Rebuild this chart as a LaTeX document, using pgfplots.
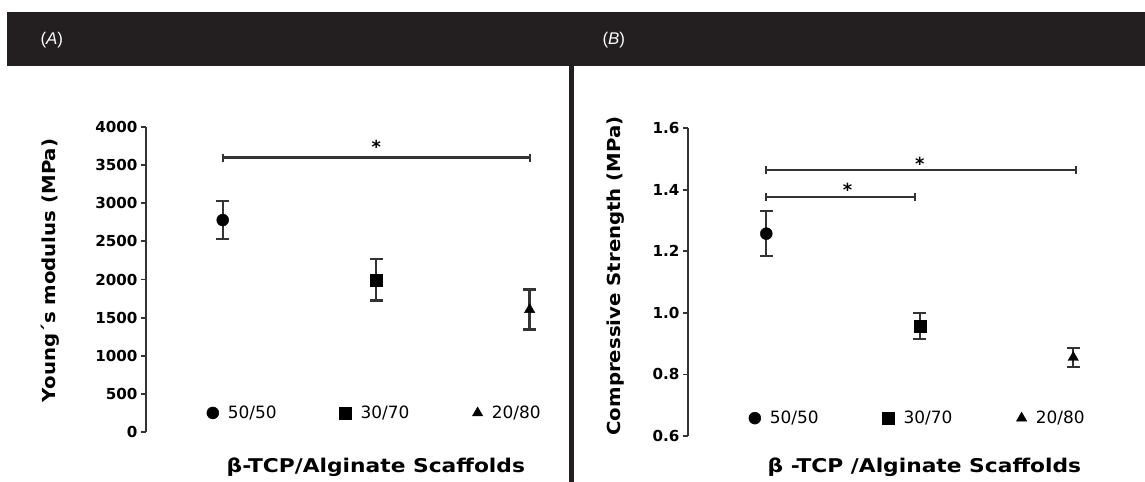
\documentclass[border=0pt]{standalone}
\usepackage{pgfplots}
\pgfplotsset{compat=1.18}
\usepackage{fontspec}
\setmainfont{DejaVu Sans}
\newfontfamily\hdrfont{Liberation Sans}
\newfontfamily\widefont[FakeStretch=1.1]{DejaVu Sans}
\newfontfamily\widerfont[FakeStretch=1.15]{DejaVu Sans}
\definecolor{hdr}{HTML}{231F20}
\definecolor{ax}{HTML}{333333}

\tikzset{
  ylab/.style={font=\widefont\fontsize{18}{20}\selectfont\bfseries, rotate=90, anchor=center},
  xlab/.style={font=\widerfont\fontsize{19}{21}\selectfont\bfseries, anchor=base},
  star/.style={font=\fontsize{18}{20}\selectfont\bfseries},
}
\pgfplotsset{
  panel/.style={
    scale only axis, clip=false,
    axis x line=none, axis y line*=left,
    y axis line style={line width=2.2bp, color=ax, -},
    ytick style={line width=1.8bp, color=ax},
    tick align=outside, major tick length=5bp,
    /pgf/number format/assume math mode=true,
    /pgf/number format/1000 sep={},
    tick label style={font=\fontsize{15.2}{17}\selectfont\bfseries},
    legend style={draw=none, fill=none, inner sep=0pt, legend columns=3,
      font=\fontsize{17}{19}\selectfont,
      /tikz/every odd column/.append style={column sep=7bp}},
  },
  pt/.style={only marks, black, mark=#1, mark size=6bp,
    mark options={fill=black, draw=black},
    error bars/.cd, y dir=both, y explicit,
    error bar style={line width=2.4bp, draw=ax},
    error mark options={rotate=90, line width=2.4bp, mark size=6.5bp, draw=ax}},
  sig/.style={forget plot, line width=2.2bp, ax, mark=|, mark size=4bp,
    mark options={line width=2.2bp, draw=ax}},
}

\begin{document}
\begin{tikzpicture}
\fill[white] (0,0) rectangle (1145bp,-482bp);
\fill[hdr] (7bp,-12bp) rectangle (1145bp,-66bp);
\node[text=white, font=\hdrfont\fontsize{17}{19}\selectfont, anchor=west] at (37bp,-40bp) {(\textit{A})};
\node[text=white, font=\hdrfont\fontsize{17}{19}\selectfont, anchor=west] at (599bp,-40bp) {(\textit{B})};
\fill[hdr] (568.5bp,-66bp) rectangle (573.5bp,-482bp);

% Panel A
\begin{axis}[panel, at={(146bp,-432bp)}, anchor=south west,
  width=399bp, height=305bp,
  xmin=0.5, xmax=3.1, ymin=0, ymax=4000, ytick={0,500,...,4000},
  ylabel={Young´s modulus (MPa)},
  every axis y label/.style={at={(axis description cs:-0.24,0.53)}, ylab},
  legend style={at={(axis cs:0.895,250)}, anchor=west,
    /tikz/every even column/.append style={column sep=61bp}}]
\addplot[pt=*] coordinates {(1,2780) +- (0,250)};
\addlegendentry{50/50}
\addplot[pt=square*] coordinates {(2,1995) +- (0,272)};
\addlegendentry{30/70}
\addplot[pt=triangle*] coordinates {(3,1605) +- (0,262)};
\addlegendentry{20/80}
\addplot[sig] coordinates {(1,3600) (3,3600)};
\node[star] at (axis cs:2,3740) {*};
\node[xlab] at (axis description cs:0.576,-0.134) {β-TCP/Alginate Scaffolds};
\end{axis}

% Panel B
\begin{axis}[panel, at={(688bp,-436bp)}, anchor=south west,
  width=400.6bp, height=308bp,
  xmin=0.49, xmax=3.1, ymin=0.6, ymax=1.6, ytick={0.6,0.8,...,1.61},
  yticklabel style={/pgf/number format/.cd, fixed, fixed zerofill, precision=1},
  ylabel={Compressive Strength (MPa)},
  every axis y label/.style={at={(axis description cs:-0.18,0.52)}, ylab},
  legend style={at={(axis cs:0.885,0.658)}, anchor=west,
    /tikz/every even column/.append style={column sep=62bp}}]
\addplot[pt=*] coordinates {(1,1.257) +- (0,0.073)};
\addlegendentry{50/50}
\addplot[pt=square*] coordinates {(2,0.957) +- (0,0.042)};
\addlegendentry{30/70}
\addplot[pt=triangle*] coordinates {(3,0.855) +- (0,0.03)};
\addlegendentry{20/80}
\addplot[sig] coordinates {(1,1.464) (3.02,1.464)};
\addplot[sig] coordinates {(1,1.376) (1.97,1.376)};
\node[star] at (axis cs:2.0,1.485) {*};
\node[star] at (axis cs:1.53,1.40) {*};
\node[xlab] at (axis description cs:0.59,-0.12) {β -TCP /Alginate Scaffolds};
\end{axis}
\path[use as bounding box] (0,0) rectangle (1145bp,-482bp);
\end{tikzpicture}
\end{document}
